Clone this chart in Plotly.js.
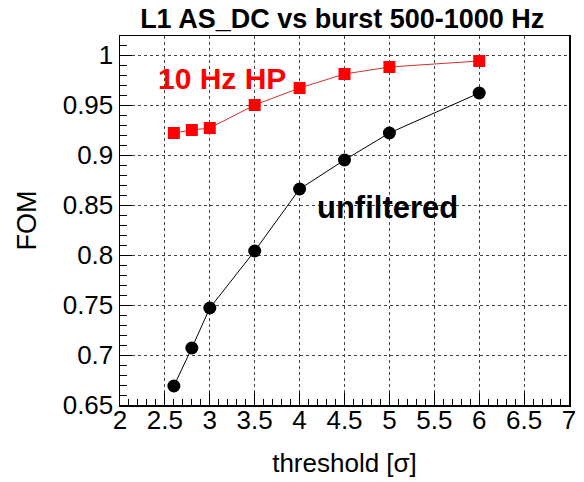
<!DOCTYPE html>
<html>
<head>
<meta charset="utf-8">
<script src="https://cdn.plot.ly/plotly-3.0.1.min.js"></script>
<style>html,body{margin:0;padding:0;background:#fff;}</style>
</head>
<body>
<div id="chart" style="width:584px;height:482px;"></div>
<script>
const thresholds = [2.6, 2.8, 3.0, 3.5, 4.0, 4.5, 5.0, 6.0];
const fomUnfiltered = [0.669, 0.707, 0.747, 0.804, 0.866, 0.895, 0.922, 0.962];
const fomHP10 = [0.922, 0.925, 0.927, 0.950, 0.967, 0.981, 0.988, 0.994];
const xTicks = [2, 2.5, 3, 3.5, 4, 4.5, 5, 5.5, 6, 6.5, 7];
const yTicks = [0.65, 0.7, 0.75, 0.8, 0.85, 0.9, 0.95, 1];
const seriesNames = ["unfiltered", "10 Hz HP"];
const chartTitle = "L1 AS_DC vs burst 500-1000 Hz";

const FONT = '"Liberation Sans", Arial, Helvetica, sans-serif';

const traces = [
  {
    x: thresholds, y: fomUnfiltered, name: seriesNames[0],
    mode: 'lines+markers', type: 'scatter',
    line: {color: '#000000', width: 1},
    marker: {symbol: 'circle', size: 13, color: '#000000'},
    showlegend: false
  },
  {
    x: thresholds, y: fomHP10, name: seriesNames[1],
    mode: 'lines+markers', type: 'scatter',
    line: {color: '#d03030', width: 1},
    marker: {symbol: 'square', size: 12, color: '#ff0000'},
    showlegend: false
  }
];

const axisCommon = {
  showline: true, linecolor: '#000', linewidth: 1.5, mirror: true,
  ticks: 'inside', ticklen: 12, tickwidth: 1, tickcolor: '#000',
  showgrid: true, gridcolor: '#444', griddash: 'dot', gridwidth: 1,
  zeroline: false,
  tickfont: {family: FONT, size: 26, color: '#000'},
  tickmode: 'array'
};

const layout = {
  width: 584, height: 482,
  margin: {l: 120, r: 15, t: 36, b: 77},
  paper_bgcolor: '#fff', plot_bgcolor: '#fff',
  font: {family: FONT, color: '#000'},
  title: {
    text: '<b>' + chartTitle + '</b>',
    font: {family: FONT, size: 27, color: '#000'},
    x: 0.586, xanchor: 'center', y: 0.962, yanchor: 'middle'
  },
  xaxis: Object.assign({}, axisCommon, {
    range: [2, 7], tickvals: xTicks, ticktext: xTicks.map(String),
    ticklabelstandoff: -9,
    minor: {dtick: 0.1, tick0: 2, ticks: 'inside', ticklen: 6, tickcolor: '#000', showgrid: false},
    title: {text: 'threshold [σ]', font: {family: FONT, size: 26, color: '#000'}, standoff: 20}
  }),
  yaxis: Object.assign({}, axisCommon, {
    range: [0.65, 1.019], tickvals: yTicks, ticktext: yTicks.map(String),
    minor: {dtick: 0.01, tick0: 0.65, ticks: 'inside', ticklen: 7, tickcolor: '#000', showgrid: false},
    title: {text: 'FOM', font: {family: FONT, size: 27, color: '#000'}, standoff: 18}
  }),
  annotations: [
    {
      x: 3.14, y: 0.9765, xref: 'x', yref: 'y', showarrow: false,
      text: '<b>' + seriesNames[1] + '</b>',
      font: {family: FONT, size: 30, color: '#ff0000'},
      xanchor: 'center', yanchor: 'middle'
    },
    {
      x: 4.98, y: 0.848, xref: 'x', yref: 'y', showarrow: false,
      text: '<b>' + seriesNames[0] + '</b>',
      font: {family: FONT, size: 31, color: '#000'},
      xanchor: 'center', yanchor: 'middle'
    }
  ]
};

Plotly.newPlot('chart', traces, layout, {displayModeBar: false, staticPlot: true});
</script>
</body>
</html>
